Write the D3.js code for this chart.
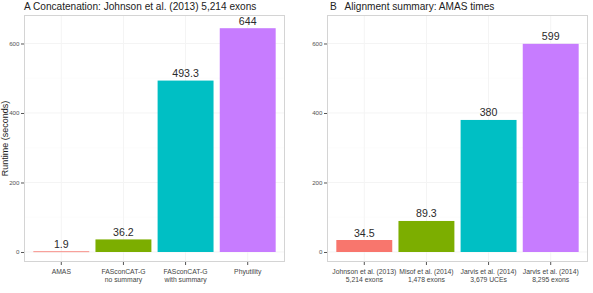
<!DOCTYPE html>
<html>
<head>
<meta charset="utf-8">
<script src="https://cdn.jsdelivr.net/npm/d3@7"></script>
<style>
  body { margin: 0; background: #fff; }
  svg { font-family: "Liberation Sans", Arial, Helvetica, sans-serif; }
</style>
</head>
<body>
<svg class="chart"></svg>
<script>
var width = 593, height = 293;

// panel A data
var catsA = ["AMAS", "FASconCAT-G\nno summary", "FASconCAT-G\nwith summary", "Phyutility"];
var valsA = [1.9, 36.2, 493.3, 644];
var labelsA = ["1.9", "36.2", "493.3", "644"];

// panel B data
var catsB = ["Johnson et al. (2013)\n5,214 exons", "Misof et al. (2014)\n1,478 exons",
             "Jarvis et al. (2014)\n3,679 UCEs", "Jarvis et al. (2014)\n8,295 exons"];
var valsB = [34.5, 89.3, 380, 599];
var labelsB = ["34.5", "89.3", "380", "599"];

var colors = ["#F8766D", "#7CAE00", "#00BFC4", "#C77CFF"];
var yTicks = [0, 200, 400, 600];
var yMinor = [100, 300, 500];

var svg = d3.select(".chart")
    .attr("width", width)
    .attr("height", height);

function panel(x0, x1, cats, vals, labels, title, showYLabel) {
  var top = 15, bottom = 262;
  var xScale = d3.scaleBand().domain(cats).range([x0, x1])
      .paddingInner(0.1).paddingOuter(0.15);
  var yScale = d3.scaleLinear().domain([-28.8, 682]).range([bottom, top]);

  var g = svg.append("g");

  // panel background + grid
  g.append("rect")
      .attr("x", x0).attr("y", top)
      .attr("width", x1 - x0).attr("height", bottom - top)
      .attr("fill", "#fff");

  g.selectAll(".hgrid-minor").data(yMinor).enter().append("line")
      .attr("x1", x0).attr("x2", x1)
      .attr("y1", d => yScale(d)).attr("y2", d => yScale(d))
      .attr("stroke", "#fafafa").attr("stroke-width", 0.6);
  g.selectAll(".hgrid").data(yTicks).enter().append("line")
      .attr("x1", x0).attr("x2", x1)
      .attr("y1", d => yScale(d)).attr("y2", d => yScale(d))
      .attr("stroke", "#f4f4f4").attr("stroke-width", 1);
  g.selectAll(".vgrid").data(cats).enter().append("line")
      .attr("y1", top).attr("y2", bottom)
      .attr("x1", d => xScale(d) + xScale.bandwidth() / 2)
      .attr("x2", d => xScale(d) + xScale.bandwidth() / 2)
      .attr("stroke", "#f4f4f4").attr("stroke-width", 1);

  // bars
  g.selectAll(".bar").data(vals).enter().append("rect")
      .attr("x", (d, i) => xScale(cats[i]))
      .attr("width", xScale.bandwidth())
      .attr("y", d => yScale(d))
      .attr("height", d => Math.max(yScale(0) - yScale(d), 0.8))
      .attr("fill", (d, i) => colors[i]);

  // value labels
  g.selectAll(".vlabel").data(vals).enter().append("text")
      .attr("x", (d, i) => xScale(cats[i]) + xScale.bandwidth() / 2)
      .attr("y", d => yScale(d) - 3.5)
      .attr("text-anchor", "middle")
      .attr("font-size", "10.6px")
      .attr("fill", "#2a2a2a")
      .text((d, i) => labels[i]);

  // border
  g.append("rect")
      .attr("x", x0 + 0.5).attr("y", top + 0.5)
      .attr("width", x1 - x0 - 1).attr("height", bottom - top - 1)
      .attr("fill", "none").attr("stroke", "#d4d4d4").attr("stroke-width", 1);

  // y axis
  var yAxis = d3.axisLeft(yScale).tickValues(yTicks).tickSize(3).tickPadding(1.5);
  var ya = g.append("g")
      .attr("transform", "translate(" + x0 + ",0)")
      .call(yAxis);
  ya.select(".domain").remove();
  ya.selectAll("line").attr("stroke", "#555");
  ya.selectAll("text").attr("font-size", "6.2px").attr("fill", "#555")
      .attr("font-family", "Liberation Sans, Arial, sans-serif");

  // x axis
  var xAxis = d3.axisBottom(xScale).tickSize(3).tickFormat("");
  var xa = g.append("g")
      .attr("transform", "translate(0," + bottom + ")")
      .call(xAxis);
  xa.select(".domain").remove();
  xa.selectAll("line").attr("stroke", "#555");

  xa.selectAll(".tick").each(function(d) {
    var t = d3.select(this).append("text")
        .attr("text-anchor", "middle")
        .attr("font-size", "6.8px")
        .attr("fill", "#444")
        .attr("font-family", "Liberation Sans, Arial, sans-serif");
    d.split("\n").forEach(function(line, i) {
      t.append("tspan").attr("x", 0).attr("y", 12 + i * 7.6).text(line);
    });
  });

  // title
  svg.append("text")
      .attr("x", title.x).attr("y", 10)
      .attr("font-size", "10.1px")
      .attr("fill", "#222")
      .attr("xml:space", "preserve")
      .text(title.text);

  if (showYLabel) {
    svg.append("text")
        .attr("transform", "translate(8," + ((top + bottom) / 2) + ") rotate(-90)")
        .attr("text-anchor", "middle")
        .attr("font-size", "9px")
        .attr("fill", "#222")
        .text("Runtime (seconds)");
  }
}

panel(24, 285, catsA, valsA, labelsA,
      {x: 24, text: "A Concatenation: Johnson et al. (2013) 5,214 exons"}, true);
panel(327, 588, catsB, valsB, labelsB,
      {x: 330, text: "B   Alignment summary: AMAS times"}, false);
</script>
</body>
</html>
